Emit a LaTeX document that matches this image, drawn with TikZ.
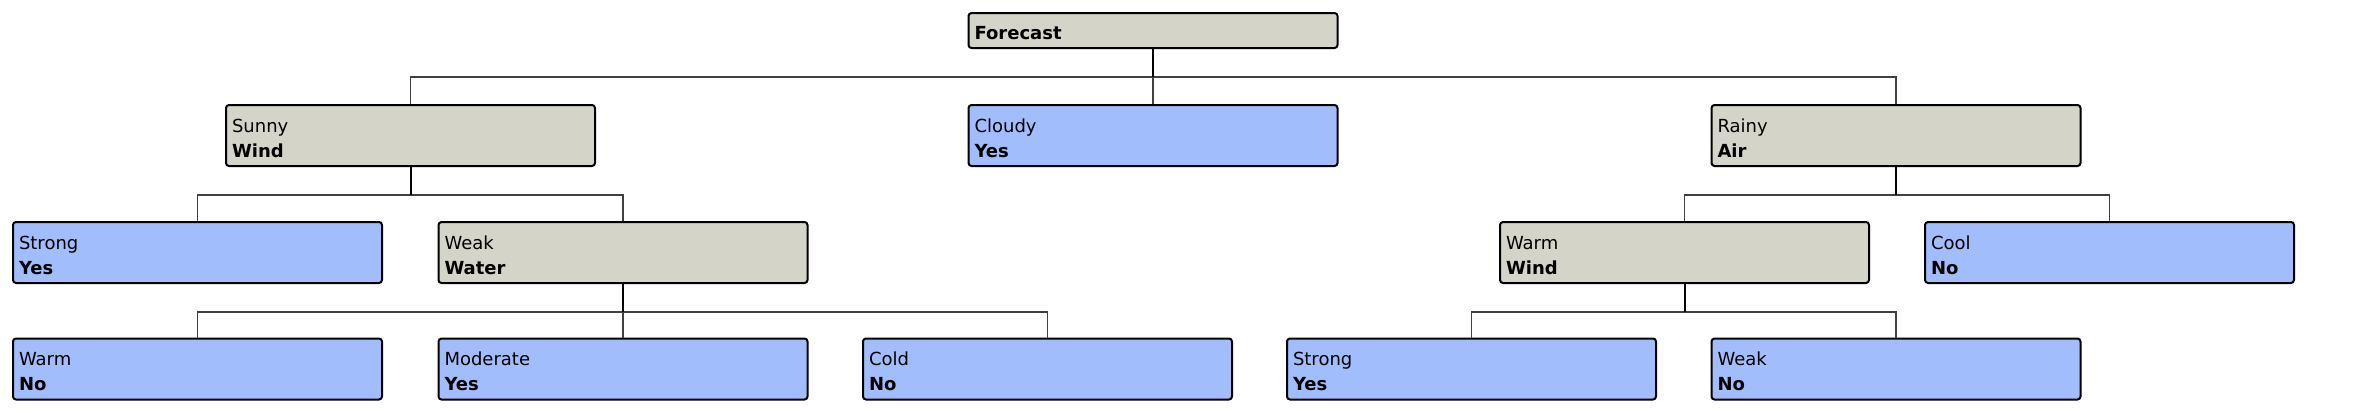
\documentclass[tikz,border=0pt]{standalone}
\usepackage{fontspec}
\setmainfont{DejaVu Sans}
\usepackage{tikz}
\usetikzlibrary{positioning}
\definecolor{attrgrey}{RGB}{212,212,200}
\definecolor{leafblue}{RGB}{162,189,252}
\tikzstyle{box} = [draw, rounded corners=1.5pt, line width=1pt, text width=178.5pt, align=left,
    inner xsep=3pt, inner ysep=0pt, minimum height=30.5pt, font=\fontsize{9}{12.5}\selectfont,
    execute at begin node={\rule{0pt}{9.2pt}}]
\tikzstyle{attr} = [box, fill=attrgrey]
\tikzstyle{leaf} = [box, fill=leafblue]
\tikzstyle{link} = [line width=0.6pt, black!75]
\tikzstyle{stem} = [line width=1pt]

\begin{document}
\begin{tikzpicture}[x=0.5pt, y=-0.5pt]
    \useasboundingbox (0,0) rectangle (2368,412);

    % root
    \node[attr, minimum height=17.5pt] (F) at (1153,30.5) {\textbf{Forecast}};

    % level one
    \node[attr] (S) at (410.5,135.5) {Sunny \\ \textbf{Wind}};
    \node[leaf] (C) at (1153,135.5) {Cloudy \\ \textbf{Yes}};
    \node[attr] (R) at (1896,135.5) {Rainy \\ \textbf{Air}};

    % level two
    \node[leaf] (SS) at (197.5,252.5) {Strong \\ \textbf{Yes}};
    \node[attr] (SW) at (623,252.5) {Weak \\ \textbf{Water}};
    \node[attr] (RW) at (1684.5,252.5) {Warm \\ \textbf{Wind}};
    \node[leaf] (RC) at (2109.5,252.5) {Cool \\ \textbf{No}};

    % level three
    \node[leaf] (SWW) at (197.5,369) {Warm \\ \textbf{No}};
    \node[leaf] (SWM) at (623,369) {Moderate \\ \textbf{Yes}};
    \node[leaf] (SWC) at (1047.5,369) {Cold \\ \textbf{No}};
    \node[leaf] (RWS) at (1471.5,369) {Strong \\ \textbf{Yes}};
    \node[leaf] (RWK) at (1896,369) {Weak \\ \textbf{No}};

    % branches: thin bus and drops, then the parent's stem on top
    \foreach \p/\c in {F/S, F/C, F/R, S/SS, S/SW, R/RW, R/RC,
                       SW/SWW, SW/SWM, SW/SWC, RW/RWS, RW/RWK}
        \draw[link] (\p.south) ++(0,28) -| (\c.north);
    \foreach \p in {F, S, R, SW, RW}
        \draw[stem] (\p.south) -- ++(0,28);

\end{tikzpicture}
\end{document}
